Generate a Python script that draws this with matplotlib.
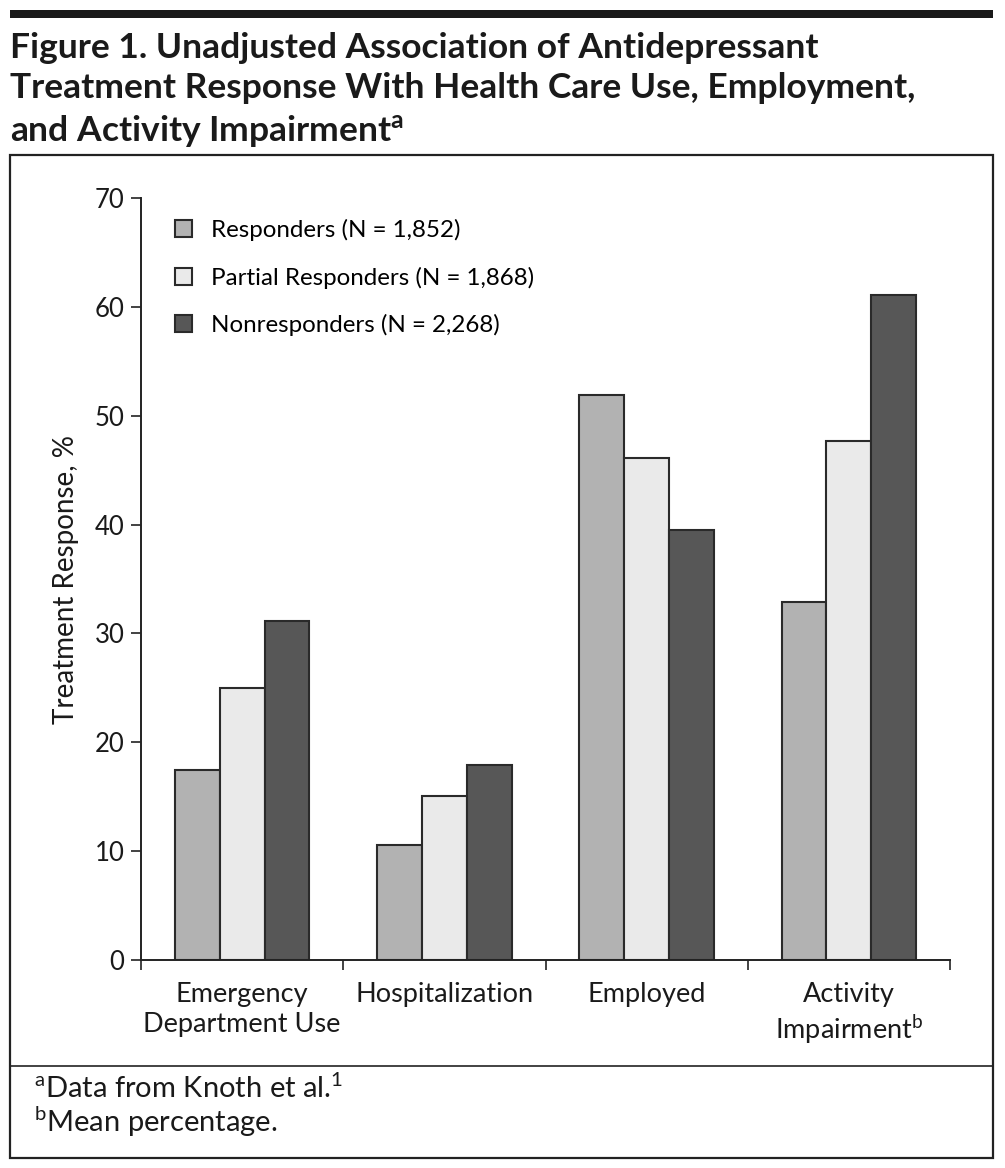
import numpy as np
import matplotlib
matplotlib.use("Agg")
import matplotlib.pyplot as plt
from matplotlib.patches import Rectangle
from matplotlib.lines import Line2D

plt.rcParams['font.family'] = ['Lato', 'DejaVu Sans']
plt.rcParams['mathtext.fontset'] = 'custom'
plt.rcParams['mathtext.rm'] = 'Lato'
plt.rcParams['mathtext.it'] = 'Lato:italic'
plt.rcParams['mathtext.bf'] = 'Lato:bold'

# data
categories = ["Emergency\nDepartment Use", "Hospitalization", "Employed",
              "Activity\nImpairment$^{\\mathrm{b}}$"]
series_names = ["Responders (N = 1,852)", "Partial Responders (N = 1,868)",
                "Nonresponders (N = 2,268)"]
responders = [17.5, 10.6, 51.9, 32.9]
partial = [25.0, 15.1, 46.1, 47.7]
nonresponders = [31.1, 17.9, 39.5, 61.1]
colors = ["#b2b2b2", "#eaeaea", "#575757"]
yticks = [0, 10, 20, 30, 40, 50, 60, 70]

fig = plt.figure(figsize=(10.05, 11.68), dpi=100)

# top rule, frame, footnote separator
fig.add_artist(Rectangle((10/1005, 1-18/1168), 983/1005, 8/1168, transform=fig.transFigure,
                         facecolor='#1a1a1a', edgecolor='none'))
fig.add_artist(Rectangle((10/1005, 1-1158/1168), 983/1005, 1003/1168, transform=fig.transFigure,
                         facecolor='none', edgecolor='#222222', linewidth=1.6))
fig.add_artist(Line2D([10/1005, 993/1005], [1-1066/1168, 1-1066/1168], transform=fig.transFigure,
                      color='#222222', linewidth=1.2))

title = ("Figure 1. Unadjusted Association of Antidepressant\n"
         "Treatment Response With Health Care Use, Employment,\n"
         "and Activity Impairment$^{\\mathbf{a}}$")
fig.text(10/1005, 1-32/1168, title, ha='left', va='top', fontsize=25.5, fontweight='bold',
         color='#1a1a1a', linespacing=1.32)

ax = fig.add_axes([141/1005, 1-960/1168, 809/1005, 762/1168])
x = np.arange(len(categories))
w = 0.222
for i, (vals, name) in enumerate(zip([responders, partial, nonresponders], series_names)):
    ax.bar(x + (i-1)*w, vals, width=w, color=colors[i], edgecolor='#2a2a2a',
           linewidth=1.5, label=name, zorder=2)

ax.set_xlim(-0.5, 3.5)
ax.set_ylim(0, 70)
ax.set_yticks(yticks)
ax.tick_params(axis='y', labelsize=18.5, length=7, width=1.2, color='#222222', pad=5,
               labelcolor='#1a1a1a')
ax.set_xticks(np.arange(-0.5, 4, 1.0))
ax.set_xticklabels([])
ax.tick_params(axis='x', length=7, width=1.2, color='#222222')
ax.set_xticks(x, minor=True)
ax.set_xticklabels(categories, minor=True, fontsize=19.5, linespacing=1.25, color='#1a1a1a')
ax.tick_params(axis='x', which='minor', length=0, pad=16)
for s in ['top', 'right']:
    ax.spines[s].set_visible(False)
for s in ['left', 'bottom']:
    ax.spines[s].set_linewidth(1.4)
    ax.spines[s].set_color('#222222')
ax.set_ylabel("Treatment Response, %", fontsize=20, labelpad=11, color='#1a1a1a')

ax.legend(loc='upper left', bbox_to_anchor=(0.03, 0.985), frameon=False, fontsize=17.4,
          handlelength=0.7, handleheight=0.7, handletextpad=0.8, labelspacing=1.05,
          borderaxespad=0)

notes = ("$^{\\mathrm{a}}$Data from Knoth et al.$^{\\mathrm{1}}$\n"
         "$^{\\mathrm{b}}$Mean percentage.")
fig.text(34/1005, 1-1132/1168, notes, ha='left', va='baseline', fontsize=21,
         color='#1a1a1a', linespacing=1.05)

fig.savefig("out.png", dpi=100)
